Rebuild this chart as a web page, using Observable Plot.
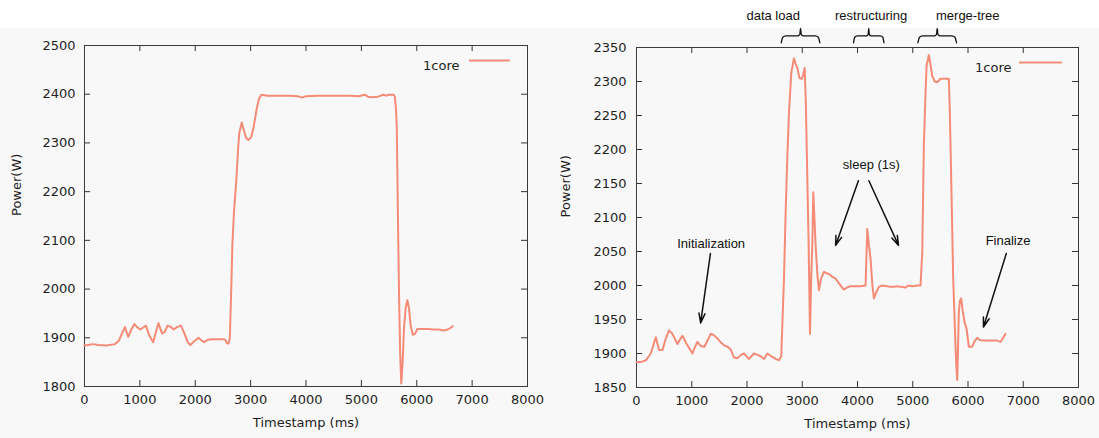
<!DOCTYPE html>
<html>
<head>
<meta charset="utf-8">
<script src="https://cdn.jsdelivr.net/npm/d3@7"></script>
<script src="https://cdn.jsdelivr.net/npm/@observablehq/plot@0.6"></script>
<style>
  body { margin: 0; background: #fff; }
  #wrap { display: flex; width: 1099px; height: 438px; }
  .panel { height: 438px; background: linear-gradient(#ffffff 0 28px, #f8f8f8 28px); }
</style>
</head>
<body>
<div id="wrap"><div class="panel" id="left" style="width:549px"></div><div class="panel" id="right" style="width:550px"></div></div>
<script>
// ---------- data ----------
const xTicks = [0, 1000, 2000, 3000, 4000, 5000, 6000, 7000, 8000];
const leftYTicks = [1800, 1900, 2000, 2100, 2200, 2300, 2400, 2500];
const rightYTicks = [1850, 1900, 1950, 2000, 2050, 2100, 2150, 2200, 2250, 2300, 2350];
const seriesName = "1core";

const leftTime = [0,60,150,250,400,550,620,730,790,850,900,950,1010,1060,1110,1170,1240,1290,1335,1400,1450,1500,1560,1610,1670,1740,1800,1860,1910,1980,2060,2110,2160,2230,2300,2400,2500,2540,2575,2600,2625,2650,2670,2700,2740,2775,2795,2840,2880,2920,2960,3010,3050,3110,3150,3195,3300,3500,3700,3850,3930,4000,4200,4500,4800,4950,5060,5120,5200,5300,5400,5450,5500,5580,5605,5625,5640,5660,5680,5700,5720,5745,5770,5800,5830,5860,5890,5930,5970,6010,6100,6200,6300,6400,6480,6560,6620,6650];
const leftPower = [1884,1885,1887,1885,1884,1887,1894,1922,1902,1918,1928,1922,1917,1921,1925,1905,1891,1912,1930,1909,1912,1925,1922,1917,1922,1925,1910,1892,1885,1893,1900,1895,1891,1896,1897,1897,1897,1896,1889,1888,1900,2000,2090,2160,2220,2290,2320,2342,2325,2310,2306,2312,2330,2370,2390,2399,2397,2397,2397,2396,2393,2396,2397,2397,2397,2396,2399,2395,2394,2395,2399,2397,2399,2399,2395,2370,2330,2150,1990,1870,1806,1850,1920,1962,1977,1960,1925,1906,1908,1918,1918,1918,1917,1917,1915,1917,1921,1924];

const rightTime = [0,100,168,259,349,409,470,530,590,640,680,741,790,832,900,960,1013,1060,1103,1163,1230,1290,1344,1400,1465,1530,1585,1650,1705,1765,1826,1890,1946,2000,2036,2080,2127,2190,2248,2308,2369,2420,2459,2520,2579,2620,2669,2700,2730,2760,2802,2850,2880,2911,2950,2990,3020,3043,3065,3080,3116,3140,3165,3182,3200,3220,3242,3275,3302,3340,3393,3440,3483,3540,3604,3650,3694,3754,3810,3875,3950,4050,4146,4177,4205,4237,4270,4297,4340,4387,4450,4539,4600,4658,4720,4780,4870,4920,5000,5080,5141,5172,5201,5230,5250,5291,5320,5353,5400,5443,5503,5580,5653,5670,5684,5710,5732,5774,5790,5805,5820,5834,5855,5877,5900,5940,5973,6015,6075,6120,6166,6210,6256,6400,6528,6588,6630,6678];
const rightPower = [1887,1888,1890,1900,1924,1905,1905,1922,1934,1930,1924,1914,1921,1926,1915,1907,1900,1910,1917,1911,1910,1920,1929,1927,1922,1916,1912,1910,1906,1894,1893,1898,1900,1895,1892,1896,1900,1898,1896,1892,1900,1897,1895,1892,1890,1896,2010,2108,2190,2255,2313,2334,2326,2320,2305,2304,2310,2320,2270,2206,2059,1929,2020,2059,2137,2100,2059,2015,1993,2010,2020,2018,2017,2013,2010,2005,2000,1994,1997,1999,1999,1999,2000,2083,2060,2039,2000,1981,1990,1998,2000,1999,1998,1998,1999,1998,1997,2000,1999,2000,2000,2049,2206,2280,2323,2339,2325,2308,2300,2299,2304,2304,2304,2260,2206,2100,2010,1912,1880,1861,1910,1961,1978,1981,1965,1945,1937,1910,1910,1918,1923,1920,1919,1919,1919,1917,1922,1929];

// annotations (right chart, data units)
const phaseLabels = ["data load", "restructuring", "merge-tree"];
const phaseLabelX = [2474, 4246, 5996];
const phaseLabelY = 2397;
const braceStart = [2620, 3928, 5094];
const braceEnd = [3318, 4479, 5792];
const noteText = ["Initialization", "sleep (1s)", "Finalize"];
const noteX = [1351, 4250, 6725];
const noteY = [2061, 2178, 2066];
const arrowX1 = [1338, 4016, 4206, 6693];
const arrowY1 = [2047, 2154, 2154, 2047];
const arrowX2 = [1161, 3604, 4743, 6280];
const arrowY2 = [1945, 2059, 2059, 1939];

// ---------- drawing ----------
const lineColor = "#f58b76";
const fmt = d3.format("d");

function chart(o) {
  const H = 438;
  const plotW = o.width - o.ml - o.mr, plotH = H - o.mt - o.mb;
  const data = o.t.map((t, i) => ({t, p: o.p[i]}));
  const yTop = o.yDomain[1];
  return Plot.plot({
    width: o.width, height: H,
    marginLeft: o.ml, marginRight: o.mr, marginTop: o.mt, marginBottom: o.mb,
    style: {background: "transparent", fontFamily: "'DejaVu Sans', sans-serif", fontSize: "13px", color: "#1e1e1e", overflow: "visible"},
    x: {domain: [0, 8000]},
    y: {domain: o.yDomain},
    marks: [
      Plot.axisX(xTicks, {anchor: "bottom", tickSize: 0, tickPadding: 8, tickFormat: fmt, label: null, fontSize: 13}),
      Plot.axisY(o.yTicks, {anchor: "left", tickSize: 0, tickPadding: o.yPad, tickFormat: fmt, label: null, fontSize: 13}),
      Plot.tickX(xTicks, {x: d => d, insetTop: plotH - 6, stroke: "#333"}),
      Plot.tickX(xTicks, {x: d => d, insetBottom: plotH - 6, stroke: "#333"}),
      Plot.tickY(o.yTicks, {y: d => d, insetRight: plotW - 6, stroke: "#333"}),
      Plot.tickY(o.yTicks, {y: d => d, insetLeft: plotW - 6, stroke: "#333"}),
      Plot.frame({stroke: "#3a3a3a"}),
      Plot.line(data, {x: "t", y: "p", stroke: lineColor, strokeWidth: 2}),
      Plot.text(["Timestamp (ms)"], {text: d => d, frameAnchor: "bottom", dy: 40, fontSize: 13}),
      Plot.text(["Power(W)"], {text: d => d, frameAnchor: "left", dx: o.ylabDx, rotate: -90, fontSize: 13}),
      Plot.ruleY([yTop], {dy: o.legDy, insetLeft: o.legInsetLeft, insetRight: o.legInsetRight, stroke: lineColor, strokeWidth: 2}),
      Plot.text([seriesName], {text: d => d, frameAnchor: "top-right", dx: o.legTextDx, dy: o.legDy, textAnchor: "end", fontSize: 13}),
      ...(o.extras || [])
    ]
  });
}

// brace geometry built from the spans
const braceFrac = [0, 0.04, 0.12, 0.42, 0.48, 0.5, 0.52, 0.58, 0.88, 0.96, 1];
const braceLevel = [2357, 2365, 2367, 2367, 2369, 2378, 2369, 2367, 2367, 2365, 2357];
const braceData = [];
braceStart.forEach((s, k) => {
  const e = braceEnd[k];
  braceFrac.forEach((f, j) => braceData.push({id: k, x: s + f * (e - s), y: braceLevel[j]}));
});

const rightExtras = [
  Plot.line(braceData, {x: "x", y: "y", z: "id", curve: "monotone-x", stroke: "#111", strokeWidth: 1.3}),
  Plot.text(phaseLabels, {x: (d, i) => phaseLabelX[i], y: phaseLabelY, text: d => d, fontFamily: "'Liberation Sans', Arial, sans-serif", fontSize: 13, fill: "#111"}),
  Plot.text(noteText, {x: (d, i) => noteX[i], y: (d, i) => noteY[i], text: d => d, fontFamily: "'Liberation Sans', Arial, sans-serif", fontSize: 13, fill: "#111"}),
  Plot.arrow(arrowX1, {x1: d => d, y1: (d, i) => arrowY1[i], x2: (d, i) => arrowX2[i], y2: (d, i) => arrowY2[i], stroke: "#111", strokeWidth: 1.5, headLength: 10, headAngle: 35})
];

document.getElementById("left").appendChild(chart({
  width: 549, t: leftTime, p: leftPower, yDomain: [1800, 2500], yTicks: leftYTicks,
  ml: 84, mr: 22, mt: 45, mb: 52, yPad: 9, ylabDx: -68,
  legDy: 15, legInsetLeft: 385, legInsetRight: 17, legTextDx: -68
}));
document.getElementById("right").appendChild(chart({
  width: 550, t: rightTime, p: rightPower, yDomain: [1850, 2350], yTicks: rightYTicks,
  ml: 87, mr: 21, mt: 47, mb: 51, yPad: 10, ylabDx: -71,
  legDy: 15, legInsetLeft: 383, legInsetRight: 16, legTextDx: -67,
  extras: rightExtras
}));
</script>
</body>
</html>
